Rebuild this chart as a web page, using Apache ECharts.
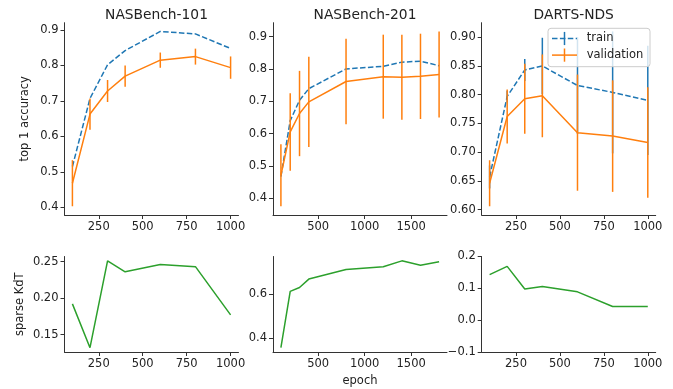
<!DOCTYPE html>
<html><head><meta charset="utf-8">
<script src="https://cdn.jsdelivr.net/npm/echarts@6/dist/echarts.min.js"></script>
<style>html,body{margin:0;padding:0;background:#fff}#c{width:673px;height:389px}</style>
</head><body><div id="c"></div>
<script>
// ---------- data ----------
const titles = ['NASBench-101', 'NASBench-201', 'DARTS-NDS'];

const epochs101 = [100, 200, 300, 400, 600, 800, 1000];
const train101 = [0.515, 0.707, 0.802, 0.842, 0.896, 0.889, 0.848];
const val101 = [0.468, 0.663, 0.728, 0.770, 0.815, 0.825, 0.794];
const valErr101 = [0.065, 0.044, 0.031, 0.030, 0.0215, 0.0225, 0.0315];
const kdt101 = [0.192, 0.132, 0.251, 0.236, 0.246, 0.243, 0.177];

const epochs201 = [100, 200, 300, 400, 800, 1200, 1400, 1600, 1800];
const train201 = [0.467, 0.640, 0.703, 0.739, 0.800, 0.808, 0.821, 0.824, 0.810];
const val201 = [0.471, 0.605, 0.662, 0.698, 0.761, 0.776, 0.774, 0.777, 0.783];
const valErr201 = [0.096, 0.120, 0.132, 0.140, 0.132, 0.130, 0.1315, 0.132, 0.133];
const kdt201 = [0.355, 0.611, 0.629, 0.667, 0.711, 0.723, 0.750, 0.730, 0.746];

const epochsNds = [100, 200, 300, 400, 600, 800, 1000];
const trainNds = [0.657, 0.797, 0.843, 0.850, 0.816, 0.804, 0.790];
const trainErrNds = [0.020, 0.010, 0.019, 0.049, 0.084, 0.106, 0.095];
const valNds = [0.646, 0.762, 0.793, 0.798, 0.734, 0.728, 0.717];
const valErrNds = [0.040, 0.047, 0.061, 0.072, 0.101, 0.097, 0.096];
const kdtNds = [0.143, 0.169, 0.098, 0.106, 0.089, 0.043, 0.043];

const xTicks101 = [250, 500, 750, 1000];
const xTicks201 = [500, 1000, 1500];
const xTicksNds = [250, 500, 750, 1000];
const accTicks101 = [0.4, 0.5, 0.6, 0.7, 0.8, 0.9];
const accTicks201 = [0.4, 0.5, 0.6, 0.7, 0.8, 0.9];
const accTicksNds = [0.60, 0.65, 0.70, 0.75, 0.80, 0.85, 0.90];
const kdtTicks101 = [0.15, 0.20, 0.25];
const kdtTicks201 = [0.4, 0.6];
const kdtTicksNds = [-0.1, 0.0, 0.1, 0.2];
const kdtLimitsNds = [-0.1, 0.2];

// ---------- style ----------
const FF = 'DejaVu Sans';
const AX = '#333';
const TX = '#222';
const BLUE = '#1f77b4', ORANGE = '#ff7f0e', GREEN = '#2ca02c';
const FS = 11.5;
const LEFTS = [64.5, 273, 481.7];
const W = 174;
const TOP1 = 22.7, H1 = 192.3;
const TOP2 = 256.5, H2 = 95.5;

const panels = [
  {x: epochs101, train: train101, trainErr: null, val: val101, valErr: valErr101, kdt: kdt101,
   xt: xTicks101, at: accTicks101, ad: 1, kt: kdtTicks101, kd: 2, klim: null},
  {x: epochs201, train: train201, trainErr: null, val: val201, valErr: valErr201, kdt: kdt201,
   xt: xTicks201, at: accTicks201, ad: 1, kt: kdtTicks201, kd: 1, klim: null},
  {x: epochsNds, train: trainNds, trainErr: trainErrNds, val: valNds, valErr: valErrNds, kdt: kdtNds,
   xt: xTicksNds, at: accTicksNds, ad: 2, kt: kdtTicksNds, kd: 1, klim: kdtLimitsNds}
];

function pad(lo, hi) { const r = hi - lo; return [lo - 0.05 * r, hi + 0.05 * r]; }
function fmt(d) { return v => Number(v).toFixed(d).replace('-', '\u2212'); }

function xAxisCfg(gi, range, ticks, extra) {
  return Object.assign({
    type: 'value', gridIndex: gi, min: range[0], max: range[1],
    axisLine: {show: true, onZero: false, lineStyle: {color: AX, width: 1}},
    axisTick: {show: true, inside: false, length: 4, customValues: ticks, lineStyle: {color: AX, width: 1}},
    axisLabel: {customValues: ticks, margin: 6, fontSize: FS, color: TX, fontFamily: FF, formatter: v => String(v)},
    splitLine: {show: false}
  }, extra || {});
}
function yAxisCfg(gi, range, ticks, d, extra) {
  return Object.assign({
    type: 'value', gridIndex: gi, min: range[0], max: range[1],
    axisLine: {show: true, onZero: false, lineStyle: {color: AX, width: 1}},
    axisTick: {show: true, inside: false, length: 4, customValues: ticks, lineStyle: {color: AX, width: 1}},
    axisLabel: {customValues: ticks, margin: 6, fontSize: FS, color: TX, fontFamily: FF, formatter: fmt(d)},
    splitLine: {show: false}
  }, extra || {});
}

function errRender(color) {
  return function (params, api) {
    const x = api.value(0), lo = api.value(1), hi = api.value(2);
    const p1 = api.coord([x, lo]), p2 = api.coord([x, hi]);
    return {type: 'line', shape: {x1: p1[0], y1: p1[1], x2: p2[0], y2: p2[1]},
            style: {stroke: color, lineWidth: 1.5}};
  };
}

const grids = [], xAxes = [], yAxes = [], series = [];
panels.forEach((p, i) => {
  grids.push({left: LEFTS[i], top: TOP1, width: W, height: H1});
  grids.push({left: LEFTS[i], top: TOP2, width: W, height: H2});
  const gTop = 2 * i, gBot = 2 * i + 1;
  const xr = pad(Math.min(...p.x), Math.max(...p.x));
  const lows = p.val.map((v, k) => v - p.valErr[k]).concat(p.train.map((v, k) => v - (p.trainErr ? p.trainErr[k] : 0)));
  const highs = p.val.map((v, k) => v + p.valErr[k]).concat(p.train.map((v, k) => v + (p.trainErr ? p.trainErr[k] : 0)));
  const ar = pad(Math.min(...lows), Math.max(...highs));
  const kr = p.klim ? p.klim : pad(Math.min(...p.kdt), Math.max(...p.kdt));

  xAxes.push(xAxisCfg(gTop, xr, p.xt));
  xAxes.push(xAxisCfg(gBot, xr, p.xt, i === 1 ? {
    name: 'epoch', nameLocation: 'middle', nameGap: 23,
    nameTextStyle: {fontSize: FS, color: TX, fontFamily: FF}} : {}));
  yAxes.push(yAxisCfg(gTop, ar, p.at, p.ad, i === 0 ? {
    name: 'top 1 accuracy', nameLocation: 'middle', nameGap: 33,
    nameTextStyle: {fontSize: FS, color: TX, fontFamily: FF}} : {}));
  yAxes.push(yAxisCfg(gBot, kr, p.kt, p.kd, i === 0 ? {
    name: 'sparse KdT', nameLocation: 'middle', nameGap: 38,
    nameTextStyle: {fontSize: FS, color: TX, fontFamily: FF}} : {}));

  series.push({
    name: 'train', type: 'line', xAxisIndex: gTop, yAxisIndex: gTop, z: 2,
    data: p.x.map((v, k) => [v, p.train[k]]), showSymbol: false, symbol: 'none',
    lineStyle: {color: BLUE, width: 1.5, type: [5.5, 2.4]}, animation: false
  });
  if (p.trainErr) {
    series.push({
      name: 'train err', type: 'custom', xAxisIndex: gTop, yAxisIndex: gTop, z: 3,
      data: p.x.map((v, k) => [v, p.train[k] - p.trainErr[k], p.train[k] + p.trainErr[k]]),
      encode: {x: 0, y: [1, 2]}, renderItem: errRender(BLUE), animation: false
    });
  }
  series.push({
    name: 'validation', type: 'line', xAxisIndex: gTop, yAxisIndex: gTop, z: 4,
    data: p.x.map((v, k) => [v, p.val[k]]), showSymbol: false, symbol: 'none',
    lineStyle: {color: ORANGE, width: 1.5}, animation: false
  });
  series.push({
    name: 'validation err', type: 'custom', xAxisIndex: gTop, yAxisIndex: gTop, z: 5,
    data: p.x.map((v, k) => [v, p.val[k] - p.valErr[k], p.val[k] + p.valErr[k]]),
    encode: {x: 0, y: [1, 2]}, renderItem: errRender(ORANGE), animation: false
  });
  series.push({
    name: 'sparse KdT', type: 'line', xAxisIndex: gBot, yAxisIndex: gBot, z: 2,
    data: p.x.map((v, k) => [v, p.kdt[k]]), showSymbol: false, symbol: 'none',
    lineStyle: {color: GREEN, width: 1.5}, animation: false
  });
});

// legend (matplotlib style, with errorbar handles) in the DARTS-NDS panel
const LX = 548, LY = 28.3;
const legendGraphic = {
  type: 'group', z: 100, children: [
    {type: 'rect', shape: {x: LX, y: LY, width: 102, height: 38.4, r: 3}, z: 100,
     style: {fill: 'rgba(255,255,255,0.8)', stroke: '#cccccc', lineWidth: 1}},
    {type: 'line', shape: {x1: LX + 4, y1: LY + 10.2, x2: LX + 29, y2: LY + 10.2}, z: 101,
     style: {stroke: BLUE, lineWidth: 1.5, lineDash: [5.5, 2.4]}},
    {type: 'line', shape: {x1: LX + 16.5, y1: LY + 3.6, x2: LX + 16.5, y2: LY + 16.8}, z: 101,
     style: {stroke: BLUE, lineWidth: 1.5}},
    {type: 'text', x: LX + 38.7, y: LY + 10.2, z: 101,
     style: {text: 'train', fontSize: FS, fontFamily: FF, fill: TX, verticalAlign: 'middle', align: 'left'}},
    {type: 'line', shape: {x1: LX + 4, y1: LY + 26.8, x2: LX + 29, y2: LY + 26.8}, z: 101,
     style: {stroke: ORANGE, lineWidth: 1.5}},
    {type: 'line', shape: {x1: LX + 16.5, y1: LY + 20.2, x2: LX + 16.5, y2: LY + 33.4}, z: 101,
     style: {stroke: ORANGE, lineWidth: 1.5}},
    {type: 'text', x: LX + 38.7, y: LY + 26.8, z: 101,
     style: {text: 'validation', fontSize: FS, fontFamily: FF, fill: TX, verticalAlign: 'middle', align: 'left'}}
  ]
};

const chart = echarts.init(document.getElementById('c'), null, {renderer: 'canvas'});
chart.setOption({
  animation: false,
  backgroundColor: '#fff',
  textStyle: {fontFamily: FF},
  title: titles.map((t, i) => ({
    text: t, left: LEFTS[i] + W / 2, top: 3, textAlign: 'center',
    textStyle: {fontSize: 13.8, fontWeight: 'normal', color: TX, fontFamily: FF}
  })),
  grid: grids,
  xAxis: xAxes,
  yAxis: yAxes,
  series: series,
  graphic: [legendGraphic]
});
</script>
</body></html>
